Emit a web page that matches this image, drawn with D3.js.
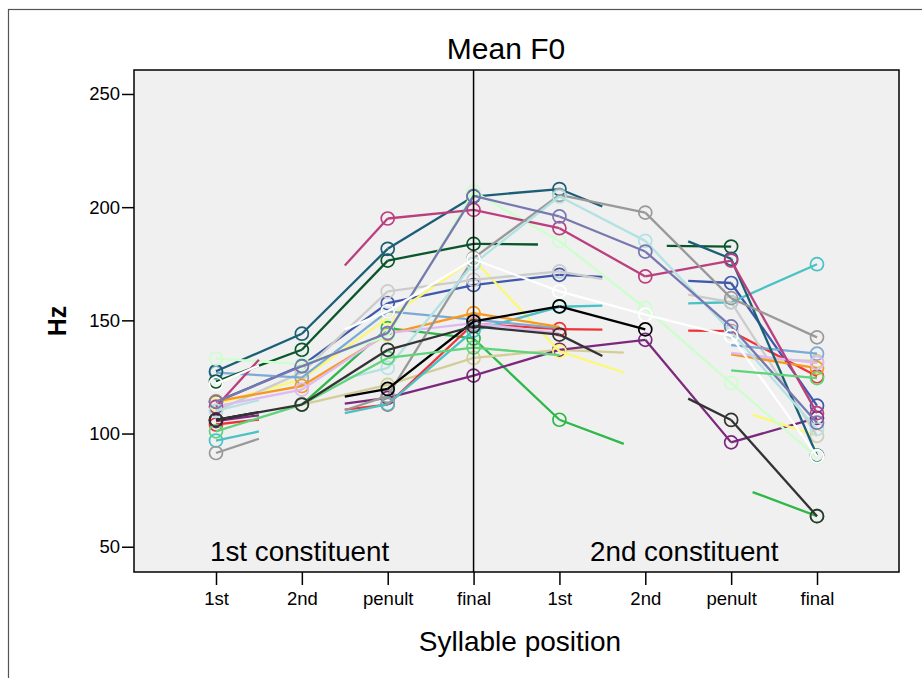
<!DOCTYPE html>
<html>
<head>
<meta charset="utf-8">
<script src="https://cdn.jsdelivr.net/npm/d3@7"></script>
<style>
  body { margin: 0; background: #fff; }
  svg text { font-family: "Liberation Sans", Arial, sans-serif; fill: #000; }
</style>
</head>
<body>
<svg id="chart" width="922" height="678"></svg>
<script>
// syllable positions (two constituents of 4 each)
var positions = ["1st", "2nd", "penult", "final", "1st", "2nd", "penult", "final"];
var yTicks = [50, 100, 150, 200, 250];

// mean F0 per series, null = no value at that position
var blue      = [114, 130, 157.6, 165.6, 170.1, null, 166.5, 112.3];
var green     = [null, 112.8, 146.6, 142, 106.1, null, null, 63.5];
var beige     = [null, 112.8, 121.5, 133.4, 137, null, null, 132];
var purple    = [105.5, null, 115.8, 125.6, 137, 141.4, 96.1, 106.9];
var yellow    = [113, 124, 151, 177, 136.3, null, null, 99];
var red       = [104, null, 112.8, 148.5, 146.1, null, 145.2, 125.3];
var teal      = [96.9, null, 113, 145.5, 156, null, 158, 174.8];
var lightgrey = [110, 127, 162.8, 167.9, 171.6, null, 158, 99];
var lightblue = [126.9, 124.7, 154, 150.3, null, null, null, 135.3];
var darkgreen = [123, 137, 176.4, 183.8, null, null, 182.6, null];
var orange    = [114.2, 121, 144, 153.2, null, null, null, 128.9];
var lavender  = [112, 119.4, 144.4, 148.8, null, null, null, 131.2];
var darkteal  = [127.5, 144.1, 181.6, 204.7, 208, null, 177.2, 90.3];
var palegreen = [133.1, 130.7, 143, 206.9, 185, 155.4, 122.3, 89.5];
var magenta   = [111.8, null, 195, 198.8, 190.7, 169.4, 176.4, 109];
var grey      = [91.4, null, 116.6, 177.5, 205.4, 197.6, 159.8, 142.5];
var black     = [106, null, 119.7, 149.5, 156.2, 146, null, null];
var palecyan  = [110, null, 129, 175, 204.7, 185.1, 145, 102];
var slate     = [114, 129.7, 144.4, 205, 195.9, 180.4, 147.3, 104.8];
var white     = [122, null, 154, 177, 162.8, 152.5, 143, 90];
var lightgreen= [101, 112.8, 133.4, 138, null, null, null, 124.5];
var darkgrey  = [106, 112.8, 137, 147.4, 143.7, null, 106, 63.5];

var series = [
  {c: "#3E58AC", v: blue}, {c: "#2EB848", v: green}, {c: "#D3CE97", v: beige},
  {c: "#7C287D", v: purple}, {c: "#FBF873", v: yellow}, {c: "#EF3338", v: red},
  {c: "#48C2C5", v: teal}, {c: "#CCCCCC", v: lightgrey}, {c: "#7AAAD5", v: lightblue},
  {c: "#0A562C", v: darkgreen}, {c: "#F8981D", v: orange}, {c: "#DDBAF1", v: lavender},
  {c: "#1A5F76", v: darkteal}, {c: "#CCFFCC", v: palegreen}, {c: "#BB3F7F", v: magenta},
  {c: "#999999", v: grey}, {c: "#000000", v: black}, {c: "#B2E2E2", v: palecyan},
  {c: "#7878B0", v: slate}, {c: "#FFFFFF", v: white}, {c: "#5FD47A", v: lightgreen},
  {c: "#333333", v: darkgrey}
];

var svg = d3.select("#chart");
var plot = {left: 134, right: 899, top: 70, bottom: 572};

// outer frame (cut off at right/bottom like the export)
svg.append("rect")
    .attr("x", 8.5).attr("y", 9.5)
    .attr("width", 1000).attr("height", 800)
    .attr("fill", "none").attr("stroke", "#555").attr("stroke-width", 1.2);

var x = d3.scalePoint()
    .domain(d3.range(positions.length))
    .range([plot.left, plot.right])
    .padding(0.955);

var y = d3.scaleLinear()
    .domain([38.84, 260.59])
    .range([plot.bottom, plot.top]);

svg.append("rect")
    .attr("x", plot.left).attr("y", plot.top)
    .attr("width", plot.right - plot.left).attr("height", plot.bottom - plot.top)
    .attr("fill", "#F0F0F0");

// axes
var yAxis = svg.append("g")
    .attr("transform", "translate(" + plot.left + ",0)")
    .call(d3.axisLeft(y).tickValues(yTicks).tickSize(12).tickPadding(2));
var xAxis = svg.append("g")
    .attr("transform", "translate(0," + plot.bottom + ")")
    .call(d3.axisBottom(x).tickFormat(function(i) { return positions[i]; }).tickSize(13).tickPadding(7));
[yAxis, xAxis].forEach(function(a) {
  a.select(".domain").remove();
  a.selectAll(".tick line").attr("stroke", "#000").attr("stroke-width", 1.5);
  a.selectAll(".tick text").style("font-size", "18.5px").attr("fill", "#000");
});

// lines: full segment between neighbours, first and last quarter across a gap
var lineGen = d3.line();
function segments(vals) {
  var pts = [];
  vals.forEach(function(v, i) { if (v != null) pts.push([x(i), y(v), i]); });
  var segs = [];
  for (var k = 1; k < pts.length; k++) {
    var a = pts[k - 1], b = pts[k];
    if (b[2] - a[2] === 1) {
      segs.push([a, b]);
    } else {
      var dx = b[0] - a[0], dy = b[1] - a[1];
      segs.push([a, [a[0] + dx * 0.25, a[1] + dy * 0.25]]);
      segs.push([[b[0] - dx * 0.25, b[1] - dy * 0.25], b]);
    }
  }
  return {pts: pts, segs: segs};
}

var gSeries = svg.append("g");
series.forEach(function(s) {
  var d = segments(s.v);
  var g = gSeries.append("g");
  g.selectAll("path").data(d.segs).enter().append("path")
      .attr("d", function(seg) { return lineGen(seg.map(function(p) { return [p[0], p[1]]; })); })
      .attr("fill", "none")
      .attr("stroke", s.c)
      .attr("stroke-width", 2.3)
      .attr("stroke-linecap", "butt");
  g.selectAll("circle").data(d.pts).enter().append("circle")
      .attr("cx", function(p) { return p[0]; })
      .attr("cy", function(p) { return p[1]; })
      .attr("r", 6.5)
      .attr("fill", "none")
      .attr("stroke", s.c)
      .attr("stroke-width", 1.7);
});

// constituent divider
svg.append("line")
    .attr("x1", x(3)).attr("x2", x(3))
    .attr("y1", plot.top).attr("y2", plot.bottom)
    .attr("stroke", "#000").attr("stroke-width", 1.5);

svg.append("rect")
    .attr("x", plot.left).attr("y", plot.top)
    .attr("width", plot.right - plot.left).attr("height", plot.bottom - plot.top)
    .attr("fill", "none").attr("stroke", "#000").attr("stroke-width", 1.5);

svg.append("text").attr("x", 210).attr("y", 561)
    .style("font-size", "27.8px").text("1st constituent");
svg.append("text").attr("x", 590).attr("y", 561)
    .style("font-size", "27.8px").text("2nd constituent");

// titles
svg.append("text").attr("x", 506).attr("y", 59).attr("text-anchor", "middle")
    .style("font-size", "30px").text("Mean F0");
svg.append("text").attr("x", 520).attr("y", 651).attr("text-anchor", "middle")
    .style("font-size", "28px").text("Syllable position");
svg.append("text")
    .attr("transform", "translate(66,321) rotate(-90)")
    .attr("text-anchor", "middle")
    .style("font-size", "25px").style("font-weight", "bold")
    .text("Hz");
</script>
</body>
</html>
